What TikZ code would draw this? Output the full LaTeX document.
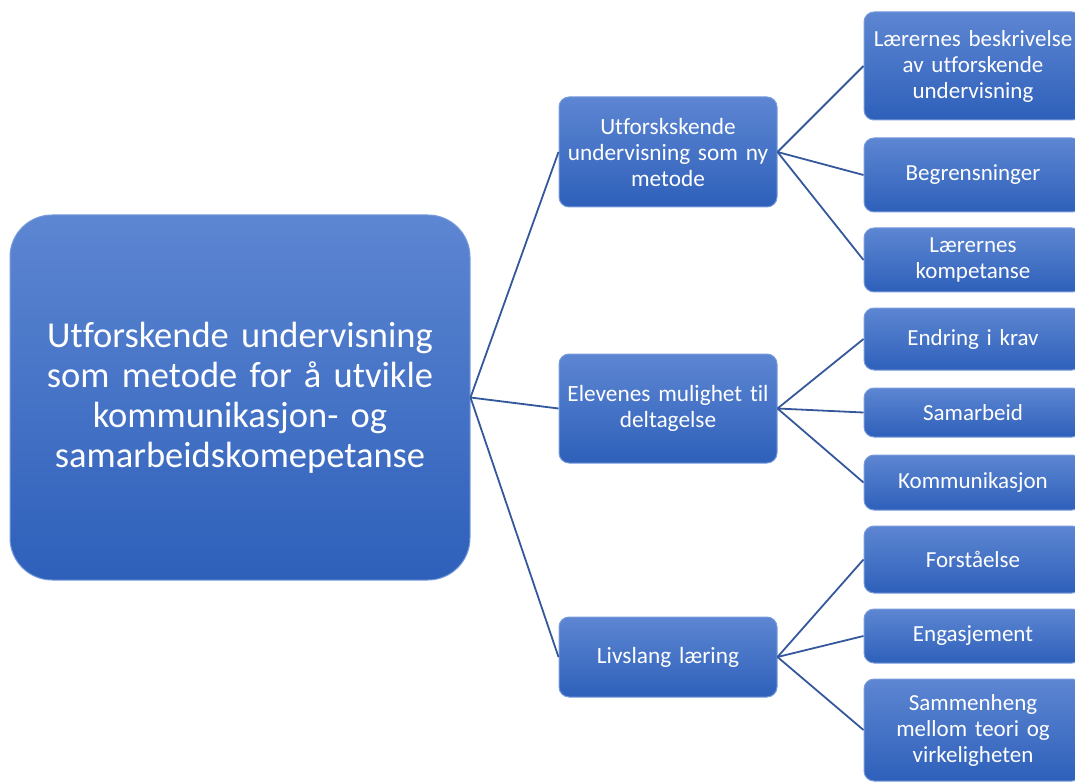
\documentclass[tikz,border=0pt]{standalone}
\usepackage{fontspec}
\setmainfont{Carlito}[Ligatures=NoCommon]
\definecolor{boxtop}{RGB}{93,134,210}
\definecolor{boxbot}{RGB}{46,96,186}
\definecolor{boxedge}{RGB}{120,155,220}
\definecolor{linkc}{RGB}{52,88,155}
\begin{document}
\begin{tikzpicture}[x=1pt,y=-1pt,
  card/.style={rectangle, top color=boxtop, bottom color=boxbot, draw=boxedge, line width=1pt,
    text=white, align=center, inner sep=0pt, minimum width=218pt},
  mainbox/.style={card, rounded corners=42pt, minimum width=460pt, minimum height=365pt,
    text width=440pt, font=\fontsize{36.5}{40}\selectfont},
  midbox/.style={card, rounded corners=10pt, text width=214pt, font=\fontsize{23.3}{26}\selectfont},
  leafbox/.style={card, rounded corners=10pt, text width=214pt, font=\fontsize{23}{26}\selectfont},
  link/.style={draw=linkc, line width=1.8pt}]
\useasboundingbox (0,0) rectangle (1075,783);
\clip (0,0) rectangle (1075,783);
\node[mainbox] (m) at (240,397.5) {Utforskende undervisning\\som metode for å utvikle\\kommunikasjon- og\\samarbeidskomepetanse};
\node[midbox, minimum height=110pt] (a) at (668,152) {Utforskskende\\undervisning som ny\\metode};
\node[midbox, minimum height=109pt] (b) at (668,408.5) {Elevenes mulighet til\\deltagelse};
\node[midbox, minimum height=80pt] (c) at (668,657) {Livslang læring};
\node[leafbox, minimum height=108pt] (a1) at (973,66) {Lærernes beskrivelse\\av utforskende\\undervisning};
\node[leafbox, minimum height=74pt] (a2) at (973,175) {Begrensninger};
\node[leafbox, minimum height=64pt] (a3) at (973,260) {Lærernes\\kompetanse};
\node[leafbox, minimum height=62pt] (b1) at (973,339) {Endring i krav};
\node[leafbox, minimum height=49pt] (b2) at (973,412.5) {Samarbeid};
\node[leafbox, minimum height=55pt] (b3) at (973,482.5) {Kommunikasjon};
\node[leafbox, minimum height=67pt] (c1) at (973,559.5) {Forståelse};
\node[leafbox, minimum height=54pt] (c2) at (973,636) {Engasjement};
\node[leafbox, minimum height=102pt] (c3) at (973,730) {Sammenheng\\mellom teori og\\virkeligheten};
\foreach \t in {a,b,c} \draw[link] (m.east) -- (\t.west);
\foreach \p in {a,b,c} \foreach \t in {1,2,3} \draw[link] (\p.east) -- (\p\t.west);
\end{tikzpicture}
\end{document}
